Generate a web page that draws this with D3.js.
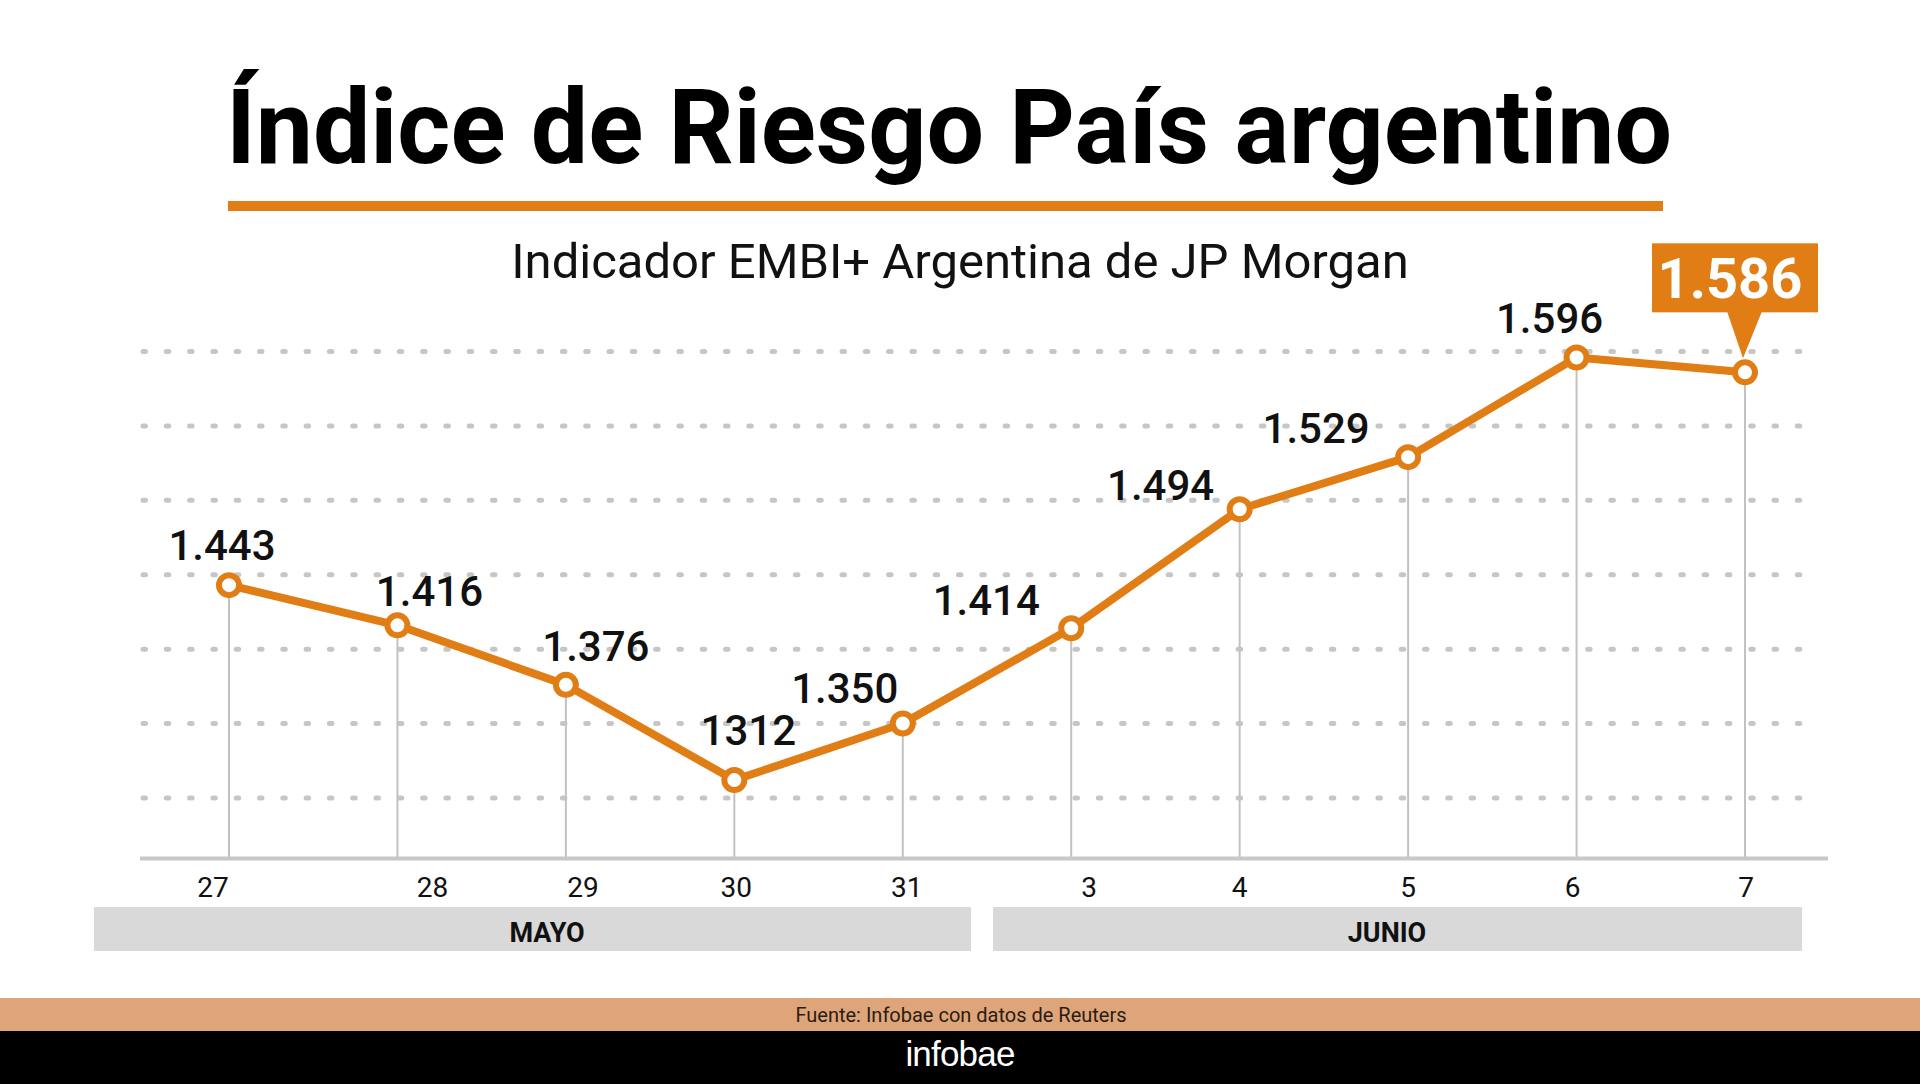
<!DOCTYPE html>
<html>
<head>
<meta charset="utf-8">
<script src="https://cdn.jsdelivr.net/npm/d3@7"></script>
<style>
  html, body { margin: 0; padding: 0; background: #ffffff; }
  svg { display: block; }
</style>
</head>
<body>
<svg id="chart" width="1920" height="1084"></svg>
<script>
// ---- data ----
const days = ["27", "28", "29", "30", "31", "3", "4", "5", "6", "7"];
const values = [1443, 1416, 1376, 1312, 1350, 1414, 1494, 1529, 1596, 1586];
const valueLabels = ["1.443", "1.416", "1.376", "1312", "1.350", "1.414", "1.494", "1.529", "1.596", "1.586"];
const gridValues = [1300, 1350, 1400, 1450, 1500, 1550, 1600];
const monthNames = ["MAYO", "JUNIO"];

const titleText = "Índice de Riesgo País argentino";
const subtitleText = "Indicador EMBI+ Argentina de JP Morgan";
const sourceText = "Fuente: Infobae con datos de Reuters";
const brandText = "infobae";

// ---- layout (not data) ----
const ORANGE = "#e07d14";
const labelNudge = [[-7, -25], [32, -19], [30, -24], [14, -35], [-58, -21], [-85, -13], [-79, -9], [-92, -14], [-27, -24]];
const tickNudge = [-16, 35, 17, 2, 4, 18, 0, 0, -4, 1];
const monthBands = [[94, 971, 547], [993, 1802, 1387]];

const svg = d3.select("#chart");

const x = d3.scalePoint().domain(days).range([229, 1745]);
const y = d3.scaleLinear().domain([1260, 1600]).range([857.5, 351.5]);

// Title
svg.append("text")
  .attr("x", 226).attr("y", 163)
  .attr("textLength", 1446).attr("lengthAdjust", "spacingAndGlyphs")
  .style("font-family", "Roboto, 'Noto Sans', sans-serif")
  .style("font-weight", 700).style("font-size", "104px")
  .attr("fill", "#000")
  .text(titleText);

svg.append("rect")
  .attr("x", 228).attr("y", 201).attr("width", 1435).attr("height", 10)
  .attr("fill", ORANGE);

// Subtitle
svg.append("text")
  .attr("x", 960).attr("y", 278).attr("text-anchor", "middle")
  .style("font-family", "Roboto, sans-serif")
  .style("font-weight", 400).style("font-size", "49px")
  .attr("fill", "#111")
  .text(subtitleText);

// Dotted gridlines
svg.append("g").selectAll("line").data(gridValues).join("line")
  .attr("x1", 143).attr("x2", 1812)
  .attr("y1", d => y(d)).attr("y2", d => y(d))
  .attr("stroke", "#c6c6c6").attr("stroke-width", 5)
  .attr("stroke-linecap", "round")
  .attr("stroke-dasharray", "2.5 20.8");

// Vertical drop lines
svg.append("g").selectAll("line").data(values).join("line")
  .attr("x1", (d, i) => x(days[i])).attr("x2", (d, i) => x(days[i]))
  .attr("y1", d => y(d)).attr("y2", y(1260))
  .attr("stroke", "#c2c2c2").attr("stroke-width", 2);

// Axis baseline
const xAxis = svg.append("g").attr("transform", `translate(0,${y(1260) + 1})`)
  .call(d3.axisBottom(x).tickSize(0).tickFormat(""));
xAxis.select(".domain").remove();
xAxis.append("line")
  .attr("x1", 140).attr("x2", 1828).attr("y1", 0).attr("y2", 0)
  .attr("stroke", "#c8c8c8").attr("stroke-width", 4);

// Tick labels
svg.append("g").selectAll("text").data(days).join("text")
  .attr("x", (d, i) => x(d) + tickNudge[i]).attr("y", 897)
  .attr("text-anchor", "middle")
  .style("font-family", "Roboto, sans-serif")
  .style("font-size", "28px")
  .attr("fill", "#111")
  .text(d => d);

// Month bands
const mg = svg.append("g");
monthNames.forEach((m, i) => {
  const b = monthBands[i];
  mg.append("rect").attr("x", b[0]).attr("y", 907).attr("width", b[1] - b[0]).attr("height", 44)
    .attr("fill", "#d9d9d9");
  mg.append("text").attr("x", b[2]).attr("y", 942).attr("text-anchor", "middle")
    .style("font-family", "Roboto, sans-serif").style("font-weight", 700).style("font-size", "27px")
    .attr("fill", "#111").text(m);
});

// Line
const line = d3.line().x((d, i) => x(days[i])).y(d => y(d));
svg.append("path").datum(values)
  .attr("d", line)
  .attr("fill", "none").attr("stroke", ORANGE)
  .attr("stroke-width", 8).attr("stroke-linejoin", "round");

// Points
svg.append("g").selectAll("circle").data(values).join("circle")
  .attr("cx", (d, i) => x(days[i])).attr("cy", d => y(d))
  .attr("r", 10)
  .attr("fill", "#fff").attr("stroke", ORANGE).attr("stroke-width", 6);

// Value labels (all but last)
svg.append("g").selectAll("text").data(values.slice(0, -1)).join("text")
  .attr("x", (d, i) => x(days[i]) + labelNudge[i][0])
  .attr("y", (d, i) => y(d) + labelNudge[i][1])
  .attr("text-anchor", "middle")
  .style("font-family", "Roboto, sans-serif")
  .style("font-weight", 500).style("font-size", "42px")
  .attr("fill", "#111")
  .text((d, i) => valueLabels[i]);

// Callout for last value
const li = values.length - 1;
const lx = x(days[li]), ly = y(values[li]);
const cg = svg.append("g");
cg.append("rect")
  .attr("x", lx - 93).attr("y", ly - 129).attr("width", 166).attr("height", 69)
  .attr("fill", ORANGE);
cg.append("path")
  .attr("d", `M${lx - 18},${ly - 61} L${lx + 17},${ly - 61} L${lx - 2},${ly - 14} Z`)
  .attr("fill", ORANGE);
cg.append("text")
  .attr("x", lx - 15).attr("y", ly - 74).attr("text-anchor", "middle")
  .style("font-family", "Roboto, sans-serif")
  .style("font-weight", 700).style("font-size", "56px")
  .attr("fill", "#fff")
  .text(valueLabels[li]);

// Footer
svg.append("rect").attr("x", 0).attr("y", 998).attr("width", 1920).attr("height", 33).attr("fill", "#dfa57a");
svg.append("text").attr("x", 961).attr("y", 1022).attr("text-anchor", "middle")
  .style("font-family", "Roboto, sans-serif").style("font-size", "20px")
  .attr("fill", "#2a1c12").text(sourceText);
svg.append("rect").attr("x", 0).attr("y", 1031).attr("width", 1920).attr("height", 53).attr("fill", "#000");
svg.append("text").attr("x", 960).attr("y", 1066).attr("text-anchor", "middle")
  .style("font-family", "'Liberation Sans', Arial, sans-serif").style("font-size", "35px")
  .style("letter-spacing", "-0.8px")
  .attr("fill", "#fff").text(brandText);
</script>
</body>
</html>
